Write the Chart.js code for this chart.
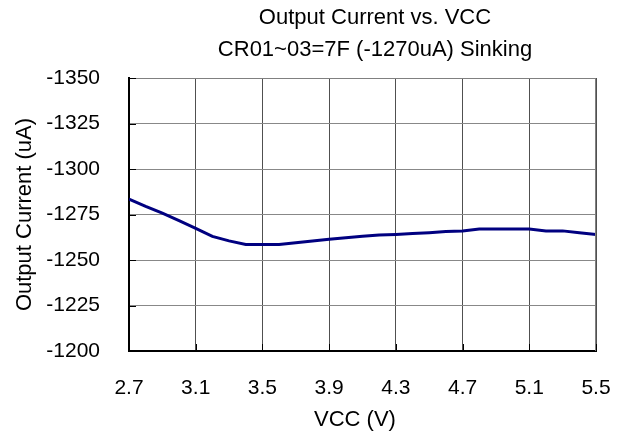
<!DOCTYPE html>
<html>
<head>
<meta charset="utf-8">
<script src="https://cdn.jsdelivr.net/npm/chart.js@4/dist/chart.umd.min.js"></script>
<style>
  html, body { margin: 0; padding: 0; background: #fff; }
  #wrap { width: 627px; height: 437px; position: relative; }
</style>
</head>
<body>
<div id="wrap"><canvas id="lineChart"></canvas></div>
<script>
// VCC (V) sampled every 0.1 V
const vcc = [2.7, 2.8, 2.9, 3.0, 3.1, 3.2, 3.3, 3.4, 3.5, 3.6, 3.7, 3.8, 3.9, 4.0,
             4.1, 4.2, 4.3, 4.4, 4.5, 4.6, 4.7, 4.8, 4.9, 5.0, 5.1, 5.2, 5.3, 5.4, 5.5];
const outputCurrent = [-1283.5, -1279.5, -1275.8, -1271.6, -1267.4, -1263, -1260.5, -1258.5,
                       -1258.5, -1258.5, -1259.5, -1260.5, -1261.4, -1262.2, -1263, -1263.7,
                       -1264, -1264.5, -1265, -1265.6, -1266, -1267, -1267, -1267, -1267,
                       -1266, -1266, -1265, -1264];
const xTicks = [2.7, 3.1, 3.5, 3.9, 4.3, 4.7, 5.1, 5.5];
const yTicks = [-1350, -1325, -1300, -1275, -1250, -1225, -1200];
const titleLines = ['Output Current vs. VCC', 'CR01~03=7F (-1270uA) Sinking'];
const xTitle = 'VCC (V)';
const yTitle = 'Output Current (uA)';

const FONT = 'Liberation Sans, Arial, sans-serif';

// titles, axis titles and the small inward tick marks, drawn like the Excel original
const decorPlugin = {
    id: 'decor',
    afterDraw(chart) {
        const c = chart.ctx;
        const area = chart.chartArea;
        const xs = chart.scales.x, ys = chart.scales.y;
        c.save();
        // frame top/right in grey
        c.strokeStyle = '#808080';
        c.lineWidth = 1;
        c.beginPath();
        c.moveTo(area.left, area.top + 0.5);
        c.lineTo(area.right - 0.5, area.top + 0.5);
        c.lineTo(area.right - 0.5, area.bottom);
        c.stroke();
        // inward tick marks
        c.strokeStyle = '#000';
        c.beginPath();
        yTicks.forEach(v => {
            const y = Math.round(ys.getPixelForValue(v)) + 0.5;
            c.moveTo(area.left, y);
            c.lineTo(area.left + 7, y);
        });
        xTicks.forEach(v => {
            const x = Math.round(xs.getPixelForValue(v)) + 0.5;
            c.moveTo(x, area.bottom);
            c.lineTo(x, area.bottom - 7);
        });
        c.stroke();
        // texts
        c.fillStyle = '#000';
        c.textAlign = 'center';
        c.textBaseline = 'middle';
        c.font = '22px ' + FONT;
        c.fillText(titleLines[0], 375, 18);
        c.fillText(titleLines[1], 375, 50);
        c.fillText(xTitle, 355, 420);
        c.translate(25, (area.top + area.bottom) / 2);
        c.rotate(-Math.PI / 2);
        c.fillText(yTitle, 0, 0);
        c.restore();
    }
};

const ctx = document.getElementById('lineChart').getContext('2d');
new Chart(ctx, {
    type: 'line',
    data: {
        datasets: [{
            label: 'Output Current',
            data: vcc.map((v, i) => ({ x: v, y: outputCurrent[i] })),
            borderColor: '#000080',
            borderWidth: 3,
            pointRadius: 0,
            tension: 0,
            fill: false
        }]
    },
    options: {
        responsive: true,
        maintainAspectRatio: false,
        animation: false,
        layout: { padding: { left: 0, top: 78, right: 31, bottom: 0 } },
        plugins: { legend: { display: false }, tooltip: { enabled: false } },
        scales: {
            x: {
                type: 'linear',
                min: 2.7,
                max: 5.5,
                afterBuildTicks: s => { s.ticks = xTicks.map(v => ({ value: v })); },
                afterFit: s => { s.height = 86; s.paddingLeft = 0; s.paddingRight = 0; },
                ticks: {
                    color: '#000',
                    font: { family: FONT, size: 21 },
                    padding: 25,
                    maxRotation: 0,
                    callback: v => v.toFixed(1)
                },
                grid: { color: '#505050', lineWidth: 1, drawTicks: false },
                border: { color: '#000', width: 2 }
            },
            y: {
                reverse: true,
                min: -1350,
                max: -1200,
                afterBuildTicks: s => { s.ticks = yTicks.map(v => ({ value: v })); },
                afterFit: s => { s.width = 129; s.paddingTop = 0; s.paddingBottom = 0; },
                ticks: {
                    color: '#000',
                    font: { family: FONT, size: 21 },
                    padding: 29,
                    callback: v => String(v)
                },
                grid: { color: '#888888', lineWidth: 1, drawTicks: false },
                border: { color: '#000', width: 2 }
            }
        }
    },
    plugins: [decorPlugin]
});
</script>
</body>
</html>
